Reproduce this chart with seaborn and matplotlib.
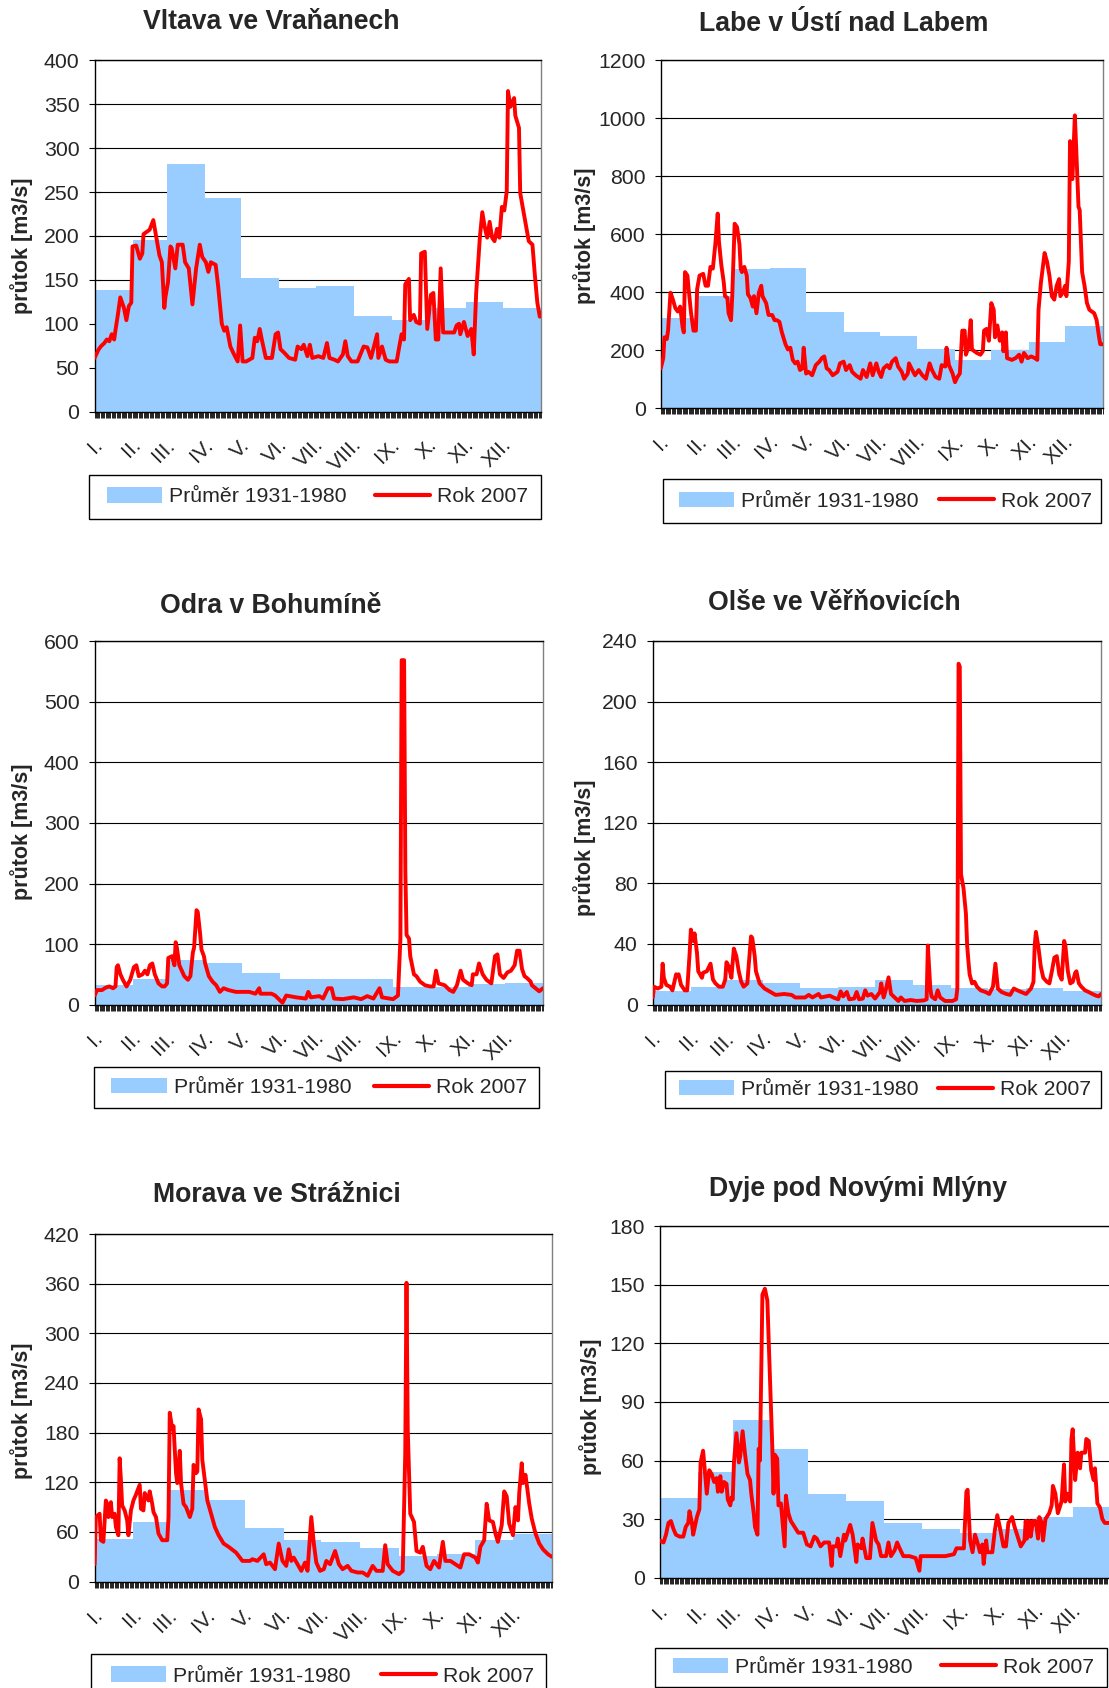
import numpy as np
import matplotlib
matplotlib.use("Agg")
import matplotlib.pyplot as plt
import seaborn as sns
from matplotlib.patches import Patch, Rectangle
from matplotlib.lines import Line2D
from matplotlib.transforms import blended_transform_factory, ScaledTranslation

sns.set_style("white")
plt.rcParams["font.family"] = ["Liberation Sans", "DejaVu Sans"]

MONTH_LABELS = ["I.", "II.", "III.", "IV.", "V.", "VI.", "VII.", "VIII.", "IX.", "X.", "XI.", "XII."]
MONTH_DAYS = [31, 28, 31, 30, 31, 30, 31, 31, 30, 31, 30, 31]
LEGEND_AVG = "Průměr 1931-1980"
LEGEND_YEAR = "Rok 2007"
Y_LABEL = "průtok [m3/s]"

# --- Vltava ve Vraňanech ---
vltava_avg = [138, 195, 282, 243, 152, 141, 143, 109, 104, 118, 125, 118]
vltava_day = [0, 3, 5, 8, 10, 12, 14, 16, 17, 19, 21, 24, 26, 28, 30, 31, 34, 37, 39, 40,
              43, 45, 48, 50, 53, 55, 57, 58, 60, 62, 63, 66, 68, 72, 74, 77, 80, 83, 86, 88,
              91, 93, 95, 99, 101, 104, 106, 108, 111, 114, 117, 119, 121, 124, 129, 131, 133, 135, 137, 140,
              145, 148, 150, 152, 155, 159, 164, 166, 169, 171, 174, 176, 178, 183, 187, 190, 192, 196, 199, 203,
              205, 207, 210, 215, 220, 223, 226, 231, 232, 235, 238, 241, 247, 249, 251, 253, 254, 257, 258, 261,
              263, 266, 267, 270, 272, 275, 277, 279, 281, 283, 285, 289, 294, 296, 298, 299, 302, 305, 308, 310,
              312, 315, 317, 319, 321, 323, 325, 327, 329, 331, 333, 335, 337, 338, 340, 343, 344, 347, 348, 350,
              353, 355, 358, 360, 362, 364, 365]
vltava_q = [61, 70, 74, 78, 82, 80, 88, 82, 92, 110, 130, 118, 104, 120, 124, 188, 189, 174, 180, 202,
            205, 207, 218, 202, 178, 170, 118, 131, 147, 188, 186, 163, 190, 190, 170, 163, 122, 163, 190, 176,
            170, 159, 170, 167, 143, 100, 92, 96, 74, 65, 57, 98, 57, 57, 61, 84, 80, 94, 80, 61,
            61, 88, 90, 71, 67, 61, 59, 74, 71, 76, 63, 76, 61, 63, 61, 78, 61, 59, 57, 65,
            80, 63, 57, 57, 74, 73, 61, 88, 61, 74, 59, 57, 57, 73, 88, 82, 145, 151, 104, 110,
            102, 100, 180, 182, 94, 133, 135, 82, 82, 163, 90, 90, 90, 98, 100, 88, 102, 86, 94, 65,
            135, 198, 227, 210, 198, 216, 198, 194, 208, 198, 233, 229, 251, 365, 347, 357, 337, 323, 249, 233,
            210, 194, 190, 155, 124, 108, 112]

# --- Labe v Ústí nad Labem ---
labe_avg = [312, 388, 478, 483, 333, 264, 249, 202, 166, 200, 228, 284]
labe_day = [0, 2, 3, 5, 6, 8, 10, 12, 14, 16, 18, 19, 20, 22, 23, 25, 27, 29, 30, 32,
            35, 37, 39, 41, 43, 45, 47, 48, 50, 52, 53, 55, 56, 58, 59, 61, 63, 65, 66, 67,
            69, 71, 72, 74, 76, 77, 79, 81, 83, 84, 87, 89, 92, 94, 96, 98, 100, 103, 105, 107,
            109, 111, 113, 115, 117, 118, 120, 122, 125, 128, 131, 133, 135, 137, 139, 142, 146, 148, 151, 153,
            156, 158, 161, 165, 167, 170, 173, 175, 178, 180, 182, 184, 187, 189, 191, 194, 196, 199, 201, 204,
            205, 207, 210, 213, 216, 219, 222, 224, 227, 230, 232, 235, 236, 238, 241, 243, 245, 247, 249, 251,
            252, 254, 256, 257, 261, 264, 266, 267, 269, 271, 273, 275, 276, 278, 280, 282, 283, 285, 286, 290,
            293, 296, 298, 300, 303, 306, 309, 311, 312, 314, 317, 319, 321, 323, 325, 327, 329, 330, 332, 334,
            335, 337, 338, 339, 340, 342, 343, 345, 346, 348, 350, 352, 354, 356, 358, 360, 362, 363, 365]
labe_q = [137, 172, 244, 238, 267, 398, 374, 345, 333, 350, 279, 261, 469, 457, 410, 327, 267, 267, 410, 457,
          463, 422, 422, 487, 481, 564, 671, 576, 493, 434, 386, 380, 327, 303, 386, 636, 624, 564, 481, 469,
          487, 457, 392, 380, 350, 386, 327, 398, 422, 386, 362, 321, 321, 303, 303, 297, 261, 220, 202, 208,
          166, 154, 160, 131, 137, 208, 119, 125, 113, 148, 160, 172, 178, 137, 131, 113, 125, 154, 160, 131,
          148, 125, 113, 101, 131, 107, 154, 113, 154, 125, 107, 137, 148, 137, 160, 172, 143, 125, 101, 119,
          154, 137, 113, 131, 113, 101, 154, 131, 107, 101, 148, 143, 208, 148, 119, 89, 107, 119, 267, 267,
          184, 208, 303, 202, 190, 184, 196, 267, 273, 232, 362, 339, 244, 285, 232, 261, 196, 261, 172, 166,
          172, 184, 160, 190, 172, 178, 172, 166, 339, 434, 535, 505, 457, 386, 374, 422, 445, 386, 398, 422,
          386, 505, 921, 790, 790, 1010, 909, 695, 683, 469, 422, 362, 339, 333, 327, 303, 244, 220, 220]

# --- Odra v Bohumíně ---
odra_avg = [32, 43, 73, 69, 53, 42, 43, 43, 29, 29, 34, 36]
odra_day = [0, 2, 6, 9, 12, 15, 17, 18, 19, 21, 23, 26, 29, 32, 34, 36, 39, 41, 43, 45,
            47, 49, 52, 55, 57, 59, 60, 63, 65, 66, 67, 69, 71, 73, 76, 78, 80, 81, 83, 84,
            86, 87, 89, 90, 93, 96, 99, 102, 105, 109, 115, 126, 131, 134, 135, 144, 147, 153, 156, 164,
            172, 174, 176, 183, 186, 190, 193, 195, 202, 211, 217, 222, 227, 232, 234, 243, 247, 249, 250, 252,
            253, 254, 256, 257, 260, 262, 265, 269, 273, 276, 278, 280, 285, 289, 292, 295, 298, 300, 304, 307,
            308, 311, 313, 316, 319, 323, 324, 326, 328, 330, 333, 336, 339, 342, 344, 346, 348, 350, 352, 355,
            356, 359, 362, 365]
odra_q = [15, 24, 24, 28, 30, 27, 30, 62, 65, 50, 41, 30, 41, 62, 65, 47, 50, 56, 50, 65,
          68, 50, 35, 30, 30, 35, 77, 80, 65, 103, 94, 65, 56, 47, 41, 47, 86, 94, 156, 153,
          115, 91, 80, 68, 47, 38, 32, 21, 27, 24, 21, 21, 18, 27, 18, 18, 15, 3, 15, 12,
          10, 21, 12, 14, 10, 27, 27, 10, 9, 12, 9, 14, 10, 27, 12, 9, 15, 109, 569, 569,
          221, 115, 109, 80, 50, 47, 38, 32, 30, 30, 56, 35, 32, 24, 21, 32, 56, 41, 35, 32,
          50, 50, 68, 50, 41, 35, 50, 80, 83, 50, 44, 53, 56, 65, 89, 89, 59, 47, 44, 38,
          32, 27, 22, 27]

# --- Olše ve Věřňovicích ---
olse_avg = [8.7, 11.6, 16.5, 14.1, 11, 11.6, 16.5, 13, 11, 10.6, 11, 8.7]
olse_day = [0, 1, 4, 7, 8, 9, 11, 14, 16, 19, 20, 21, 23, 26, 28, 30, 31, 33, 34, 36,
            37, 40, 41, 44, 47, 49, 51, 54, 57, 59, 60, 62, 64, 66, 68, 70, 72, 74, 77, 78,
            80, 81, 83, 84, 87, 91, 96, 100, 107, 113, 116, 124, 127, 130, 135, 137, 144, 147, 151, 153,
            155, 158, 160, 164, 166, 168, 171, 173, 175, 178, 181, 185, 186, 188, 190, 192, 194, 197, 200, 202,
            205, 210, 215, 221, 223, 224, 226, 227, 230, 232, 234, 238, 244, 247, 248, 249, 250, 251, 253, 255,
            256, 257, 258, 260, 262, 264, 267, 271, 274, 277, 279, 280, 281, 284, 288, 291, 294, 297, 300, 304,
            308, 310, 311, 312, 314, 316, 318, 321, 323, 325, 327, 329, 331, 333, 335, 336, 338, 340, 342, 344,
            345, 347, 349, 352, 355, 358, 361, 363, 365]
olse_q = [4.7, 11.8, 10.6, 11.8, 27, 17.7, 13, 11.8, 9.4, 20, 19, 20, 13, 9.4, 9.4, 34, 49.5, 42, 47, 34,
          22, 17.7, 21, 22, 27, 16.5, 14, 11.8, 11.8, 16.5, 28, 25, 17.7, 37, 32, 22, 15, 11.8, 14, 25,
          45, 44, 32, 22, 14, 10.6, 8.3, 6.4, 7, 6.4, 4.7, 4.7, 6.4, 4.7, 7, 4.7, 5.9, 4.7, 3.5, 8.7,
          5.4, 8.3, 3.5, 4, 8.3, 3.5, 4, 9.4, 5.9, 7, 4, 8.3, 14, 4.7, 10.6, 18, 7, 4.7, 2.4, 4.7,
          2.4, 3, 2.4, 2.8, 3.5, 39, 10.6, 5.4, 3.5, 9.4, 4.7, 2.4, 2.4, 3.5, 10.6, 225, 223, 86, 77, 60,
          39, 29, 20, 14, 15, 11.8, 9.4, 8.3, 7, 11.8, 27, 19, 10.6, 8.3, 7, 6.4, 10.6, 9.4, 8.3, 7,
          10.6, 15, 39, 48, 38, 25, 17.7, 15, 14, 22, 31, 32, 20, 16.5, 42, 39, 22, 14, 15, 21,
          22, 14, 11.8, 9.4, 8.3, 7, 5.9, 5.4, 7]

# --- Morava ve Strážnici ---
morava_avg = [52, 72, 111, 98, 65, 50, 48, 41, 31, 33, 50, 58]
morava_day = [0, 1, 4, 5, 7, 9, 10, 11, 13, 14, 16, 17, 19, 20, 21, 22, 24, 26, 27, 29,
              31, 33, 36, 37, 39, 40, 43, 44, 46, 47, 49, 51, 54, 58, 59, 60, 62, 63, 65, 66,
              68, 69, 71, 73, 76, 78, 79, 81, 82, 83, 85, 86, 88, 90, 93, 96, 99, 103, 107, 113,
              118, 124, 126, 130, 135, 137, 140, 144, 147, 150, 153, 155, 157, 159, 162, 165, 168, 170, 173, 175,
              177, 180, 183, 185, 188, 192, 195, 198, 202, 205, 210, 214, 218, 222, 225, 230, 232, 234, 238, 243,
              246, 248, 249, 250, 252, 255, 257, 260, 262, 265, 268, 271, 275, 278, 280, 284, 288, 292, 295, 299,
              304, 306, 308, 311, 313, 315, 318, 320, 322, 325, 327, 329, 331, 334, 336, 338, 339, 341, 342, 344,
              347, 349, 352, 355, 358, 362, 365]
morava_q = [21, 78, 82, 50, 48, 98, 94, 78, 96, 78, 82, 66, 56, 149, 123, 92, 86, 74, 56, 86,
            98, 105, 117, 88, 86, 107, 98, 109, 94, 84, 78, 58, 50, 50, 78, 204, 184, 188, 131, 119,
            158, 119, 94, 90, 78, 88, 141, 131, 133, 208, 196, 147, 123, 98, 82, 66, 56, 46, 42, 35,
            25, 25, 27, 25, 33, 21, 23, 15, 46, 25, 19, 39, 25, 29, 21, 13, 23, 13, 78, 46,
            23, 13, 15, 25, 21, 37, 21, 15, 19, 13, 11, 11, 7, 19, 13, 13, 44, 21, 13, 9,
            13, 155, 361, 184, 82, 72, 37, 35, 42, 19, 15, 25, 17, 48, 25, 25, 21, 17, 33, 33,
            29, 23, 42, 50, 94, 74, 72, 58, 48, 68, 109, 103, 70, 56, 90, 74, 107, 143, 119, 129,
            94, 76, 58, 46, 39, 33, 30]

# --- Dyje pod Novými Mlýny ---
dyje_avg = [41, 54, 81, 66, 43, 39, 28, 25, 23, 25, 31, 36]
dyje_day = [0, 3, 5, 7, 9, 11, 13, 16, 19, 21, 23, 24, 26, 27, 30, 32, 33, 35, 36, 38,
            40, 42, 44, 46, 47, 49, 50, 52, 54, 55, 57, 58, 59, 60, 62, 64, 65, 67, 69, 71,
            73, 74, 76, 77, 79, 80, 81, 83, 85, 87, 89, 91, 92, 93, 95, 96, 98, 101, 102, 104,
            106, 108, 112, 116, 119, 122, 125, 127, 130, 133, 137, 139, 140, 143, 144, 146, 149, 150, 154, 156,
            159, 160, 163, 164, 167, 170, 172, 175, 177, 179, 183, 185, 187, 190, 192, 194, 197, 202, 207, 210,
            211, 219, 231, 238, 240, 246, 248, 249, 251, 253, 255, 257, 259, 261, 262, 264, 265, 269, 271, 273,
            275, 278, 280, 282, 285, 287, 290, 292, 295, 296, 297, 299, 300, 302, 304, 306, 307, 309, 310, 312,
            315, 317, 318, 320, 322, 325, 327, 328, 330, 332, 333, 334, 336, 338, 340, 341, 344, 345, 347, 349,
            351, 352, 354, 356, 358, 360, 363, 365]
dyje_q = [19, 18, 22, 28, 29, 25, 22, 21, 21, 26, 28, 34, 28, 22, 31, 35, 59, 65, 58, 43,
          55, 53, 49, 51, 44, 52, 44, 49, 48, 40, 37, 41, 40, 59, 74, 59, 62, 75, 63, 53,
          50, 43, 33, 26, 22, 66, 60, 145, 148, 142, 105, 67, 43, 63, 61, 37, 38, 16, 42, 33,
          29, 27, 23, 23, 17, 16, 21, 20, 16, 18, 18, 6, 16, 16, 20, 11, 22, 19, 27, 22,
          8, 17, 15, 20, 10, 10, 28, 19, 17, 11, 11, 18, 11, 14, 18, 15, 11, 11, 10, 3.5,
          11, 11, 11, 12, 15, 15, 44, 45, 19, 13, 22, 18, 13, 17, 7, 19, 13, 13, 24, 32,
          26, 16, 16, 28, 31, 26, 20, 16, 19, 29, 20, 29, 21, 29, 29, 20, 31, 28, 19, 30,
          33, 37, 47, 43, 33, 39, 58, 39, 43, 39, 71, 76, 50, 64, 56, 64, 64, 71, 70, 55,
          50, 56, 38, 36, 30, 28, 28, 28]

# Panel geometry in output pixels: axes (left, right, top, bottom),
# title centre, y-label centre, legend frame (x0, x1, y0, y1) and entry span (x0, x1)
panels = [
    dict(title="Vltava ve Vraňanech", avg=vltava_avg, day=vltava_day, q=vltava_q,
         ymax=400, ystep=50, axes=(94.6, 541.0, 60.3, 411.5),
         title_xy=(271, 22.4), ylabel_xy=(22, 246),
         legend=(89, 541, 474.6, 519, 107, 528)),
    dict(title="Labe v Ústí nad Labem", avg=labe_avg, day=labe_day, q=labe_q,
         ymax=1200, ystep=200, axes=(660.8, 1102.7, 60.3, 408.0),
         title_xy=(843.6, 24), ylabel_xy=(584.5, 236),
         legend=(663, 1101, 478.7, 523.5, 679, 1092)),
    dict(title="Odra v Bohumíně", avg=odra_avg, day=odra_day, q=odra_q,
         ymax=600, ystep=100, axes=(94.6, 542.9, 641.4, 1004.6),
         title_xy=(271, 606.4), ylabel_xy=(22, 832),
         legend=(93.6, 538.6, 1067, 1108, 111.4, 527.6)),
    dict(title="Olše ve Věřňovicích", avg=olse_avg, day=olse_day, q=olse_q,
         ymax=240, ystep=40, axes=(652.8, 1101.0, 641.0, 1004.6),
         title_xy=(834.8, 603), ylabel_xy=(584.5, 848),
         legend=(665, 1101, 1071, 1108, 679, 1091.5)),
    dict(title="Morava ve Strážnici", avg=morava_avg, day=morava_day, q=morava_q,
         ymax=420, ystep=60, axes=(94.6, 551.8, 1234.0, 1581.6),
         title_xy=(276.8, 1195.4), ylabel_xy=(22, 1411),
         legend=(91, 546, 1654, 1698, 110.7, 534)),
    dict(title="Dyje pod Novými Mlýny", avg=dyje_avg, day=dyje_day, q=dyje_q,
         ymax=180, ystep=30, axes=(659.8, 1111.0, 1226.3, 1577.6),
         title_xy=(857.6, 1188.6), ylabel_xy=(591, 1406.7),
         legend=(655, 1107, 1647.6, 1687, 672.7, 1094)),
]

W, H = 1109, 1688
BLUE = "#99CCFF"
RED = "#FF0000"
FS = 15.3

fig = plt.figure(figsize=(W / 100, H / 100), dpi=100)
fig.patch.set_facecolor("white")
edges = np.concatenate([[0], np.cumsum(MONTH_DAYS)])

for p in panels:
    l, r, t, b = p["axes"]
    ax = fig.add_axes([l / W, 1 - b / H, (r - l) / W, (b - t) / H])
    ax.set_facecolor("white")

    # long-term monthly means as a stepped area
    avg = np.asarray(p["avg"], float)
    ax.fill_between(edges, np.append(avg, avg[-1]), step="post",
                    color=BLUE, lw=0, zorder=1)
    # daily discharge of 2007
    sns.lineplot(x=p["day"], y=p["q"], ax=ax, color=RED, lw=2.8,
                 estimator=None, sort=False, zorder=3)

    ymax, ystep = p["ymax"], p["ystep"]
    yt = np.arange(0, ymax + ystep / 2, ystep)
    ax.hlines(yt[1:], 0, 365, colors="black", lw=0.8, zorder=0.5)
    ax.set_xlim(0, 365)
    ax.set_ylim(0, ymax)
    ax.set_yticks(yt)
    ax.set_yticklabels([f"{int(v)}" for v in yt])
    ax.set_xticks(np.arange(0, 366))
    ax.set_xlabel("")
    ax.set_ylabel("")
    ax.tick_params(axis="x", which="major", bottom=True, direction="inout",
                   length=8.8, width=0.65, color="#111111", labelbottom=False)
    ax.tick_params(axis="y", left=True, direction="inout", length=9,
                   width=0.8, color="black", labelsize=FS, pad=6.5)
    for side in ("left", "bottom", "top"):
        ax.spines[side].set_color("black")
        ax.spines[side].set_linewidth(1.0)
    ax.spines["right"].set_color("#808080")
    ax.spines["right"].set_linewidth(1.0)

    # rotated month names at the first day of each month
    trans = blended_transform_factory(ax.transData, ax.transAxes) + \
        ScaledTranslation(0.05, -0.305, fig.dpi_scale_trans)
    for d, lab in zip(edges[:-1], MONTH_LABELS):
        ax.text(d, 0, lab, transform=trans, rotation=45, rotation_mode="anchor",
                ha="right", va="center", fontsize=FS)

    tx, ty = p["title_xy"]
    fig.text(tx / W, 1 - ty / H, p["title"], ha="center", va="center",
             fontsize=19.2, fontweight="bold")
    lx, ly = p["ylabel_xy"]
    fig.text(lx / W, 1 - ly / H, Y_LABEL, rotation=90, ha="center", va="center",
             fontsize=15.5, fontweight="bold")

    bx0, bx1, by0, by1, ix0, ix1 = p["legend"]
    fig.add_artist(Rectangle((bx0 / W, 1 - by1 / H), (bx1 - bx0) / W, (by1 - by0) / H,
                             transform=fig.transFigure, fill=False,
                             edgecolor="black", lw=1.0))
    cy = (by0 + by1) / 2
    handles = [Patch(facecolor=BLUE, edgecolor="none"),
               Line2D([], [], color=RED, lw=3)]
    fig.legend(handles, [LEGEND_AVG, LEGEND_YEAR], loc="center",
               bbox_to_anchor=(ix0 / W, 1 - cy / H, (ix1 - ix0) / W, 0),
               bbox_transform=fig.transFigure, ncol=2, mode="expand",
               frameon=False, borderaxespad=0, borderpad=0,
               handlelength=2.6, handleheight=0.75, handletextpad=0.33,
               fontsize=FS)

fig.savefig("out.png", dpi=100, facecolor="white")
